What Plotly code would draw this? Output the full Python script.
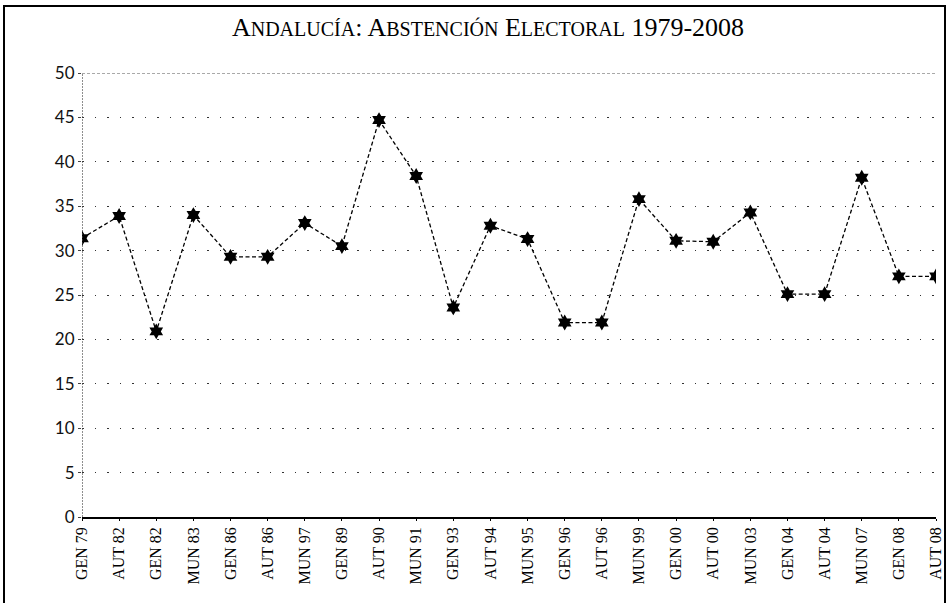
import plotly.graph_objects as go

categories = ["GEN 79", "AUT 82", "GEN 82", "MUN 83", "GEN 86", "AUT 86", "MUN 97", "GEN 89",
              "AUT 90", "MUN 91", "GEN 93", "AUT 94", "MUN 95", "GEN 96", "AUT 96", "MUN 99",
              "GEN 00", "AUT 00", "MUN 03", "GEN 04", "AUT 04", "MUN 07", "GEN 08", "AUT 08"]
abstention = [31.4, 33.9, 20.9, 34.0, 29.3, 29.3, 33.1, 30.5,
              44.7, 38.4, 23.6, 32.8, 31.3, 21.9, 21.9, 35.8,
              31.1, 31.0, 34.3, 25.1, 25.1, 38.2, 27.1, 27.1]
y_ticks = [0, 5, 10, 15, 20, 25, 30, 35, 40, 45, 50]

W, H = 951, 603
L, R, T, B = 82, 15, 73, 86
pw = W - L - R
ph = H - T - B

def sc(big, small):
    return big + "<span style='font-size:20px'>" + small + "</span>"

title = (sc("A", "NDALUCÍA") + ": " + sc("A", "BSTENCIÓN") + " " + sc("E", "LECTORAL")
         + " 1979-2008")

fig = go.Figure()
fig.add_trace(go.Scatter(
    x=list(range(len(categories))), y=abstention, mode="lines+markers",
    line=dict(color="black", width=1.3, dash="4px,2.5px"),
    marker=dict(symbol="hexagram", size=12, color="black", line=dict(width=0)),
    showlegend=False, hoverinfo="skip",
))

shapes = [
    dict(type="line", xref="x", yref="y", x0=0, x1=len(categories) - 1, y0=50, y1=50,
         line=dict(color="#555", width=1, dash="3px,2px")),
    dict(type="line", xref="x", yref="y", x0=0, x1=0, y0=0, y1=50,
         line=dict(color="#444", width=1.2, dash="2px,1px")),
    dict(type="rect", xref="paper", yref="paper",
         x0=(4 - L) / pw, x1=(945 - L) / pw, y0=(H - B - 615) / ph, y1=(H - B - 6) / ph,
         line=dict(color="black", width=2), fillcolor="rgba(0,0,0,0)"),
]

fig.update_layout(
    width=W, height=H,
    margin=dict(l=L, r=R, t=T, b=B, autoexpand=False),
    paper_bgcolor="white", plot_bgcolor="white",
    title=dict(text=title, x=488 / W, xref="container", xanchor="center",
               y=1 - 27 / H, yref="container", yanchor="middle",
               font=dict(family="Liberation Serif", size=26, color="black")),
    shapes=shapes,
    xaxis=dict(
        tickmode="array", tickvals=list(range(len(categories))), ticktext=categories,
        range=[0, len(categories) - 1], tickangle=-90,
        tickfont=dict(family="Liberation Serif", size=16, color="black"),
        showgrid=False, zeroline=False, showline=True, linecolor="black", linewidth=1.5,
        ticks="outside", ticklen=2, tickcolor="black",
    ),
    yaxis=dict(
        range=[0, 50], tickmode="array", tickvals=y_ticks,
        tickfont=dict(family="Lato", size=17, color="#111"),
        showgrid=True, gridcolor="#333", gridwidth=1, griddash="1.5px,11px",
        zeroline=False, showline=False, ticks="outside", ticklen=3, tickcolor="#444",
    ),
)

fig.write_html("out.html", config={"displayModeBar": False},
               post_script="document.body.style.margin='0px';")
